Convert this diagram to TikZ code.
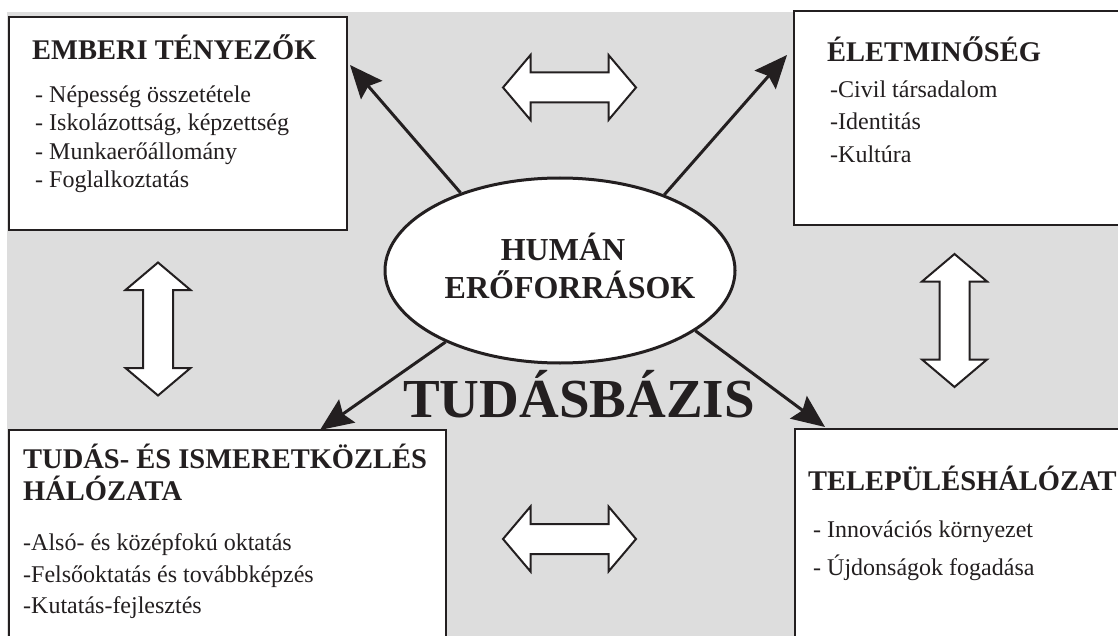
\documentclass[tikz,border=0pt]{standalone}
\usepackage{fontspec}
\setmainfont{Liberation Serif}
\usetikzlibrary{arrows.meta,shapes.geometric}
\definecolor{bggray}{RGB}{221,221,221}
\definecolor{ink}{RGB}{35,31,32}

\begin{document}
\begin{tikzpicture}[x=1pt,y=-1pt,
  box/.style={draw=ink, line width=2.2pt, fill=white, rectangle, inner sep=0pt, anchor=north west},
  title/.style={font=\fontsize{28.5}{30}\selectfont\bfseries, text=ink, anchor=base west, inner sep=0pt},
  item/.style={font=\fontsize{24}{26}\selectfont, text=ink, anchor=base west, inner sep=0pt},
  conn/.style={draw=ink, line width=3pt, -{Stealth[length=33pt,width=28pt,inset=5pt]}},
  dblar/.style={draw=ink, line width=2pt, fill=white, line join=miter},
  hdbl/.pic={\path[dblar] (-66.5,0) -- (-39,-32.5) -- (-39,-15) -- (39,-15) -- (39,-32.5)
     -- (66.5,0) -- (39,32.5) -- (39,15) -- (-39,15) -- (-39,32.5) -- cycle;}
]
\useasboundingbox (0,0) rectangle (1118,636);
\clip (0,0) rectangle (1118,636);
\fill[bggray] (7,12) rectangle (1118,636);

% the four boxes
\node[box, minimum width=338pt, minimum height=213pt] (emb) at (8,16) {};
\node[box, minimum width=340pt, minimum height=214pt] (elet) at (793,10) {};
\node[box, minimum width=437pt, minimum height=220pt] (tud) at (8,429) {};
\node[box, minimum width=340pt, minimum height=220pt] (tel) at (794,428) {};

% box texts
\node[title] (embT) at (32,60) {EMBERI TÉNYEZŐK};
\node[item] (emb1) at (35,103) {- Népesség összetétele};
\node[item] (emb2) at (35,131) {- Iskolázottság, képzettség};
\node[item] (emb3) at (35,160) {- Munkaerőállomány};
\node[item] (emb4) at (35,188) {- Foglalkoztatás};

\node[title] (eletT) at (827,62) {ÉLETMINŐSÉG};
\node[item] (elet1) at (830,98) {-Civil társadalom};
\node[item] (elet2) at (830,130) {-Identitás};
\node[item] (elet3) at (830,163) {-Kultúra};

\node[title] (tudT) at (23,468) {TUDÁS- ÉS ISMERETKÖZLÉS};
\node[title] (tudT2) at (23,500) {HÁLÓZATA};
\node[item] (tud1) at (23,550) {-Alsó- és középfokú oktatás};
\node[item] (tud2) at (23,582) {-Felsőoktatás és továbbképzés};
\node[item] (tud3) at (23,613) {-Kutatás-fejlesztés};

\node[title] (telT) at (808,490) {TELEPÜLÉSHÁLÓZAT};
\node[item] (tel1) at (813,537) {- Innovációs környezet};
\node[item] (tel2) at (813,575) {- Újdonságok fogadása};

% central ellipse
\node[draw=ink, line width=3pt, fill=white, ellipse, minimum width=350pt,
      minimum height=185pt, inner sep=0pt] (hum) at (560,270.5) {};
\node[font=\fontsize{32}{34}\selectfont\bfseries, text=ink, anchor=base, inner sep=0pt] (humA) at (563,260) {HUMÁN};
\node[font=\fontsize{32}{34}\selectfont\bfseries, text=ink, anchor=base, inner sep=0pt] (humB) at (570,298) {ERŐFORRÁSOK};

\node[font=\fontsize{55}{60}\selectfont\bfseries, text=ink, anchor=base, inner sep=0pt] (tb) at (579,417) {TUDÁSBÁZIS};

% arrows out of the ellipse
\coordinate (tipA) at (350,65);
\coordinate (tipB) at (787,55);
\coordinate (tipC) at (320,430);
\coordinate (tipD) at (825,427);
\draw[conn] (hum.142) -- (tipA);
\draw[conn] (hum.36) -- (tipB);
\draw[conn] (hum.212.5) -- (tipC);
\draw[conn] (hum.336.5) -- (tipD);

% double arrows between neighbouring boxes
\pic at (569.5,87.5) {hdbl};
\pic at (569.5,539) {hdbl};
\pic[rotate=90] at (158,329) {hdbl};
\pic[rotate=90] at (954.5,320.5) {hdbl};
\end{tikzpicture}
\end{document}
